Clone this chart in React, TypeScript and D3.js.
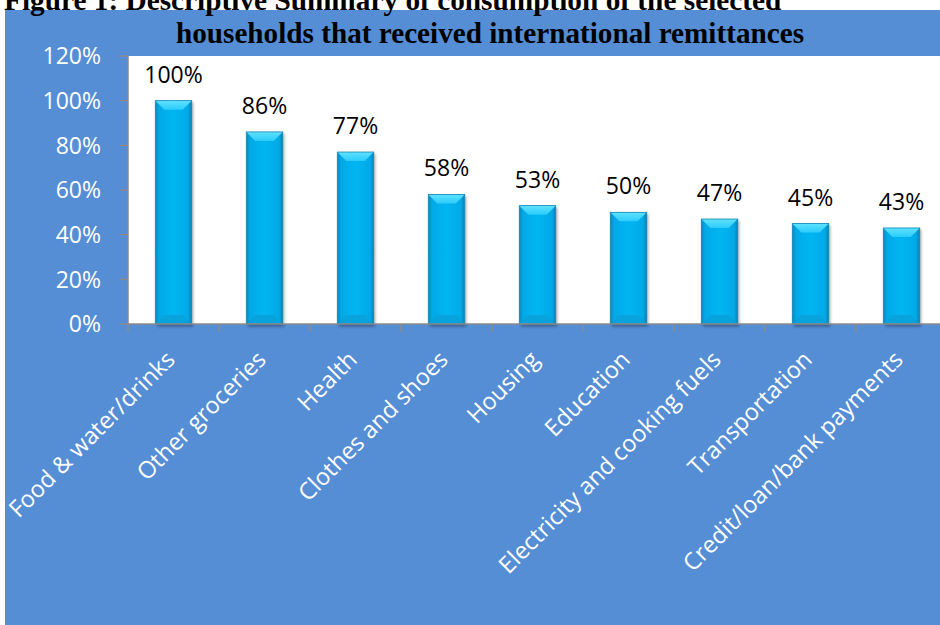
import React from 'react';
import * as d3 from 'd3';

const categories = [
  'Food & water/drinks',
  'Other groceries',
  'Health',
  'Clothes and shoes',
  'Housing',
  'Education',
  'Electricity and cooking fuels',
  'Transportation',
  'Credit/loan/bank payments',
];
const values = [1.0, 0.86, 0.77, 0.58, 0.53, 0.5, 0.47, 0.45, 0.43];
const yTicks = [0, 0.2, 0.4, 0.6, 0.8, 1.0, 1.2];
const titleLine1 = 'Figure 1:  Descriptive Summary of consumption of the selected';
const titleLine2 = 'households that received international remittances';

export default function App() {
  const W = 940;
  const H = 625;
  const plot = { left: 128, right: 947, top: 56, bottom: 324 };
  const x = d3.scaleBand<string>().domain(categories).range([plot.left, plot.right]).padding(0);
  const y = d3.scaleLinear().domain([0, 1.2]).range([plot.bottom, plot.top]);
  const barW = x.bandwidth() * 0.4;
  const fmt = d3.format('.0%');
  const font = "'Open Sans', sans-serif";
  const axisColor = '#8a8a8a';
  const bev = 9;

  return (
    <svg width={W} height={H} style={{ position: 'absolute', left: 0, top: 0 }}>
      <defs>
        <linearGradient id="barBody" x1="0" x2="1" y1="0" y2="0">
          <stop offset="0%" stopColor="#0a86b8" />
          <stop offset="10%" stopColor="#02a9e6" />
          <stop offset="50%" stopColor="#00b6f2" />
          <stop offset="90%" stopColor="#02a9e6" />
          <stop offset="100%" stopColor="#0a80b0" />
        </linearGradient>
        <linearGradient id="barTop" x1="0" x2="0" y1="0" y2="1">
          <stop offset="0%" stopColor="#5fe2ff" />
          <stop offset="100%" stopColor="#2ccbfb" />
        </linearGradient>
        <filter id="shadow" x="-30%" y="-10%" width="160%" height="130%">
          <feGaussianBlur stdDeviation="1.6" />
        </filter>
      </defs>
      <rect x={0} y={0} width={W} height={H} fill="#ffffff" />
      <rect x={5} y={10} width={W - 5} height={H - 10} fill="#558ed5" />
      <rect
        x={plot.left}
        y={plot.top}
        width={plot.right - plot.left}
        height={plot.bottom - plot.top}
        fill="#ffffff"
      />
      {/* title */}
      <text
        x={4}
        y={10}
        fontFamily="'Liberation Serif', 'Times New Roman', serif"
        fontWeight="bold"
        fontSize={29.3}
        fill="#000"
      >
        {titleLine1}
      </text>
      <text
        x={490}
        y={43}
        textAnchor="middle"
        fontFamily="'Liberation Serif', 'Times New Roman', serif"
        fontWeight="bold"
        fontSize={29.2}
        fill="#000"
      >
        {titleLine2}
      </text>

      {/* bars */}
      {categories.map((c, i) => {
        const cx = (x(c) as number) + x.bandwidth() / 2;
        const x0 = cx - barW / 2;
        const x1 = cx + barW / 2;
        const y0 = y(values[i]);
        const y1 = y(0);
        return (
          <g key={c}>
            <rect
              x={x0 + 1.5}
              y={y0 + 1.5}
              width={barW}
              height={y1 - y0 + 1}
              fill="#000"
              opacity={0.35}
              filter="url(#shadow)"
            />
            <rect x={x0} y={y0} width={barW} height={y1 - y0} fill="url(#barBody)" />
            <polygon
              points={`${x0},${y0} ${x1},${y0} ${x1 - bev},${y0 + bev} ${x0 + bev},${y0 + bev}`}
              fill="url(#barTop)"
            />
            <polygon
              points={`${x0},${y1} ${x1},${y1} ${x1 - bev},${y1 - bev} ${x0 + bev},${y1 - bev}`}
              fill="#0a9fd8"
              opacity={0.8}
            />
            <rect
              x={x0}
              y={y0}
              width={barW}
              height={y1 - y0}
              fill="none"
              stroke="#1687b8"
              strokeWidth={0.8}
            />
            <text
              x={cx}
              y={y0 - 18}
              textAnchor="middle"
              fontFamily={font}
              fontSize={23}
              fill="#000"
            >
              {fmt(values[i])}
            </text>
          </g>
        );
      })}

      {/* y axis */}
      <line x1={plot.left} x2={plot.left} y1={plot.top} y2={plot.bottom} stroke={axisColor} strokeWidth={1.5} />
      {yTicks.map((t) => (
        <g key={t}>
          <line x1={plot.left - 8} x2={plot.left} y1={y(t)} y2={y(t)} stroke={axisColor} strokeWidth={1.5} />
          <text
            x={101}
            y={y(t)}
            dy="0.36em"
            textAnchor="end"
            fontFamily={font}
            fontSize={23}
            fill="#ffffff"
          >
            {fmt(t)}
          </text>
        </g>
      ))}

      {/* x axis */}
      <line x1={plot.left} x2={plot.right} y1={plot.bottom} y2={plot.bottom} stroke={axisColor} strokeWidth={1.5} />
      {categories.map((c) => (
        <line
          key={'t' + c}
          x1={x(c) as number}
          x2={x(c) as number}
          y1={plot.bottom}
          y2={plot.bottom + 8}
          stroke={axisColor}
          strokeWidth={1.5}
        />
      ))}
      {categories.map((c) => {
        const cx = (x(c) as number) + x.bandwidth() / 2;
        return (
          <text
            key={'l' + c}
            transform={`translate(${cx + 3},${361}) rotate(-45)`}
            textAnchor="end"
            fontFamily={font}
            fontSize={23.5}
            fill="#ffffff"
          >
            {c}
          </text>
        );
      })}
    </svg>
  );
}
